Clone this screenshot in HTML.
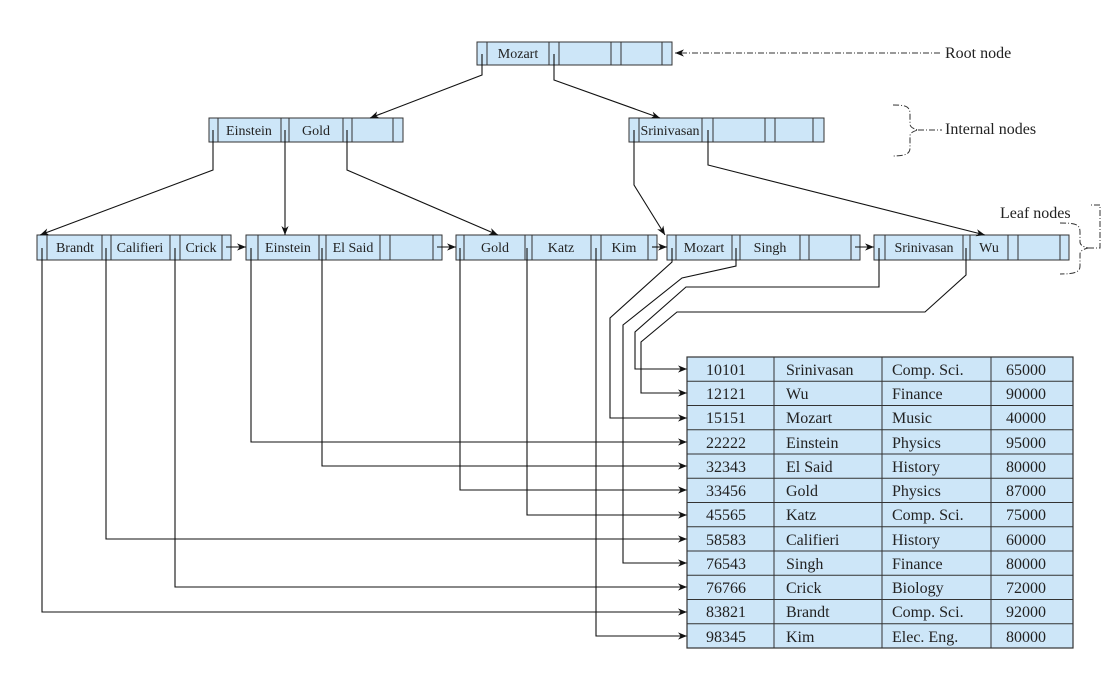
<!DOCTYPE html>
<html><head><meta charset="utf-8"><style>
html,body{margin:0;padding:0;background:#fff;}
svg{display:block;}
</style></head><body>
<svg width="1120" height="692" viewBox="0 0 1120 692" xmlns="http://www.w3.org/2000/svg" font-family="'Liberation Serif', serif" fill="#222">
<defs>
<marker id="a" viewBox="0 0 10 10" refX="10" refY="5" markerWidth="9" markerHeight="9" markerUnits="userSpaceOnUse" orient="auto"><path d="M0,1 L10,5 L0,9 L3,5 z" fill="#111"/></marker>
</defs>
<g fill="#cde6f8" stroke="#333" stroke-width="1">
<rect x="477" y="42" width="195" height="23"/>
<rect x="209" y="118" width="194" height="24"/>
<rect x="629" y="118" width="195" height="24"/>
<rect x="37" y="235" width="194" height="25"/>
<rect x="246" y="235" width="196" height="25"/>
<rect x="456" y="235" width="201" height="25"/>
<rect x="667" y="235" width="193" height="25"/>
<rect x="874" y="235" width="195" height="25"/>
</g>
<g stroke="#333" stroke-width="1" fill="none">
<path d="M487,42V65M549,42V65M559,42V65M611,42V65M621,42V65M662,42V65"/>
<path d="M218,118V142M281,118V142M289,118V142M343,118V142M352,118V142M393,118V142"/>
<path d="M639,118V142M702,118V142M713,118V142M765,118V142M775,118V142M813,118V142"/>
<path d="M47,235V260M102,235V260M111,235V260M170,235V260M180,235V260M222,235V260"/>
<path d="M258,235V260M319,235V260M326,235V260M380,235V260M390,235V260M433,235V260"/>
<path d="M464,235V260M525,235V260M532,235V260M591,235V260M601,235V260M648,235V260"/>
<path d="M676,235V260M732,235V260M740,235V260M800,235V260M809,235V260M851,235V260"/>
<path d="M885,235V260M963,235V260M970,235V260M1008,235V260M1018,235V260M1060,235V260"/>
</g>
<g font-size="14" text-anchor="middle" fill="#222">
<text x="518" y="58">Mozart</text>
<text x="249" y="135">Einstein</text>
<text x="316" y="135">Gold</text>
<text x="670" y="135">Srinivasan</text>
<text x="75" y="252">Brandt</text>
<text x="140" y="252">Califieri</text>
<text x="201" y="252">Crick</text>
<text x="288" y="252">Einstein</text>
<text x="353" y="252">El Said</text>
<text x="495" y="252">Gold</text>
<text x="561" y="252">Katz</text>
<text x="624" y="252">Kim</text>
<text x="704" y="252">Mozart</text>
<text x="770" y="252">Singh</text>
<text x="924" y="252">Srinivasan</text>
<text x="989" y="252">Wu</text>
</g>
<g fill="none" stroke="#111" stroke-width="1.1">
<path d="M482,54V75L370,118" marker-end="url(#a)"/>
<path d="M554,54V80L660,118" marker-end="url(#a)"/>
<path d="M213,130V170L40,235" marker-end="url(#a)"/>
<path d="M285,130V235" marker-end="url(#a)"/>
<path d="M347,130V170L498,235" marker-end="url(#a)"/>
<path d="M634,130V185L665,235" marker-end="url(#a)"/>
<path d="M708,130V165L985,235" marker-end="url(#a)"/>
<path d="M226,247H246" marker-end="url(#a)"/>
<path d="M437,247H456" marker-end="url(#a)"/>
<path d="M652,247H667" marker-end="url(#a)"/>
<path d="M855,247H874" marker-end="url(#a)"/>
<path d="M42,248V612H687" marker-end="url(#a)"/>
<path d="M106,248V539H687" marker-end="url(#a)"/>
<path d="M175,248V587H687" marker-end="url(#a)"/>
<path d="M251,248V442H687" marker-end="url(#a)"/>
<path d="M322,248V466H687" marker-end="url(#a)"/>
<path d="M460,248V490H687" marker-end="url(#a)"/>
<path d="M527,248V515H687" marker-end="url(#a)"/>
<path d="M596,248V636H687" marker-end="url(#a)"/>
<path d="M672,248V262L610,318V418H687" marker-end="url(#a)"/>
<path d="M736,248V266L682,278L623,325V563H687" marker-end="url(#a)"/>
<path d="M879,248V287H686L635,332V369H687" marker-end="url(#a)"/>
<path d="M966,248V275L925,312H677L641,342V393H687" marker-end="url(#a)"/>
</g>
<g fill="none" stroke="#333" stroke-width="1" stroke-dasharray="6,2,1,2">
<path d="M940,53H675" marker-end="url(#a)"/>
<path d="M893,105C905,105 910,106 910,114V124Q910,128 918,130Q910,132 910,136V148C910,154 905,156 893,156"/>
<path d="M918,130H942"/>
<path d="M1060,223C1075,223 1080,224 1080,232V242Q1080,246 1088,248Q1080,250 1080,254V266C1080,272 1075,274 1060,274"/>
<path d="M1088,248H1100V205H1090"/>
</g>
<g font-size="16" fill="#222">
<text x="945" y="58">Root node</text>
<text x="945" y="134">Internal nodes</text>
<text x="1000" y="218">Leaf nodes</text>
</g>
<rect x="687" y="357" width="386" height="291" fill="#cde6f8" stroke="#333" stroke-width="1.2"/>
<g stroke="#333" stroke-width="1" fill="none">
<path d="M774,357V648M882,357V648M991,357V648"/>
<path d="M687,381.25H1073M687,405.5H1073M687,429.75H1073M687,454H1073M687,478.25H1073M687,502.5H1073M687,526.75H1073M687,551H1073M687,575.25H1073M687,599.5H1073M687,623.75H1073"/>
</g>
<g font-size="16" fill="#222">
<text x="706" y="375">10101</text><text x="786" y="375">Srinivasan</text><text x="892" y="375">Comp. Sci.</text><text x="1006" y="375">65000</text>
<text x="706" y="399">12121</text><text x="786" y="399">Wu</text><text x="892" y="399">Finance</text><text x="1006" y="399">90000</text>
<text x="706" y="423">15151</text><text x="786" y="423">Mozart</text><text x="892" y="423">Music</text><text x="1006" y="423">40000</text>
<text x="706" y="448">22222</text><text x="786" y="448">Einstein</text><text x="892" y="448">Physics</text><text x="1006" y="448">95000</text>
<text x="706" y="472">32343</text><text x="786" y="472">El Said</text><text x="892" y="472">History</text><text x="1006" y="472">80000</text>
<text x="706" y="496">33456</text><text x="786" y="496">Gold</text><text x="892" y="496">Physics</text><text x="1006" y="496">87000</text>
<text x="706" y="520">45565</text><text x="786" y="520">Katz</text><text x="892" y="520">Comp. Sci.</text><text x="1006" y="520">75000</text>
<text x="706" y="545">58583</text><text x="786" y="545">Califieri</text><text x="892" y="545">History</text><text x="1006" y="545">60000</text>
<text x="706" y="569">76543</text><text x="786" y="569">Singh</text><text x="892" y="569">Finance</text><text x="1006" y="569">80000</text>
<text x="706" y="593">76766</text><text x="786" y="593">Crick</text><text x="892" y="593">Biology</text><text x="1006" y="593">72000</text>
<text x="706" y="617">83821</text><text x="786" y="617">Brandt</text><text x="892" y="617">Comp. Sci.</text><text x="1006" y="617">92000</text>
<text x="706" y="642">98345</text><text x="786" y="642">Kim</text><text x="892" y="642">Elec. Eng.</text><text x="1006" y="642">80000</text>
</g>
</svg>
</body></html>
